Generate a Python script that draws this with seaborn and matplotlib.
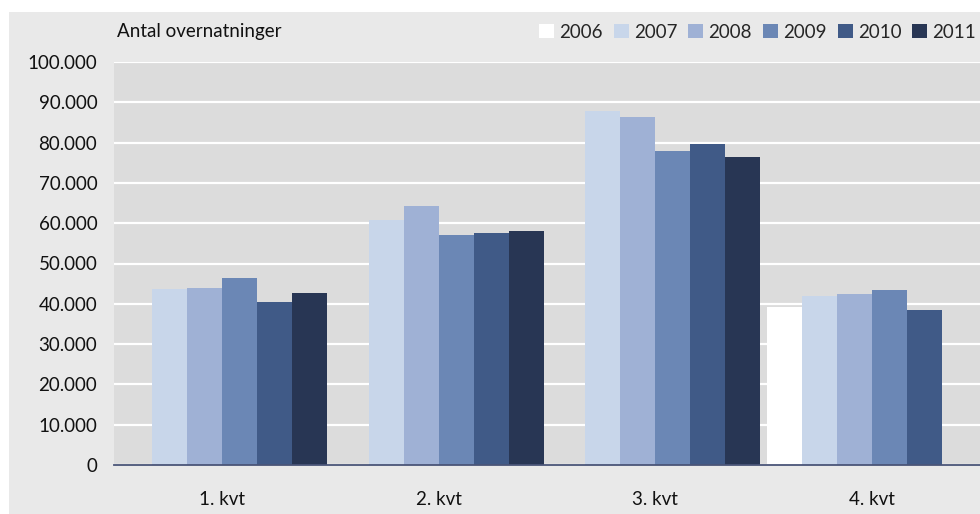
import seaborn as sns
import matplotlib.pyplot as plt
import matplotlib.ticker as mticker
import matplotlib.patches as mpatches
import numpy as np
import pandas as pd

# overnatninger per kvartal (NaN = no bar)
quarters = ["1. kvt", "2. kvt", "3. kvt", "4. kvt"]
years = ["2006", "2007", "2008", "2009", "2010", "2011"]
y2006 = [np.nan, np.nan, np.nan, 39200]
y2007 = [43700, 60700, 87900, 41900]
y2008 = [44000, 64200, 86300, 42400]
y2009 = [46400, 57000, 77900, 43400]
y2010 = [40400, 57500, 79600, 38500]
y2011 = [42700, 58000, 76400, np.nan]
colors = ["#ffffff", "#c8d6ea", "#9fb1d5", "#6b87b5", "#405a87", "#283654"]

series = dict(zip(years, [y2006, y2007, y2008, y2009, y2010, y2011]))
rows = []
for year, vals in series.items():
    for q, v in zip(quarters, vals):
        rows.append({"kvartal": q, "aar": year, "antal": v})
df = pd.DataFrame(rows)

sns.set_style("white")
plt.rcParams["font.family"] = ["Lato", "DejaVu Sans"]
fs = 13.5

fig = plt.figure(figsize=(9.8, 5.14), dpi=100)
fig.patch.set_facecolor("white")
# grey panel behind everything
fig.patches.append(mpatches.Rectangle((9 / 980, 0), 1, 1 - 12 / 514,
                                      transform=fig.transFigure,
                                      facecolor="#e9e9e9", edgecolor="none",
                                      zorder=-10))

ax = fig.add_axes([114 / 980, 1 - 465 / 514, 866 / 980, 403 / 514])
ax.set_zorder(1)
ax.set_facecolor("#dcdcdc")

sns.barplot(data=df, x="kvartal", y="antal", hue="aar",
            order=quarters, hue_order=years, palette=colors,
            saturation=1, width=0.972, linewidth=0, ax=ax, zorder=3)

ax.set_ylim(0, 100000)
ax.set_xlim(-0.5, 3.5)
ax.yaxis.set_major_locator(mticker.MultipleLocator(10000))
ax.yaxis.set_major_formatter(
    mticker.FuncFormatter(lambda v, p: f"{int(v):,}".replace(",", ".")))
ax.grid(axis="y", color="white", linewidth=1.6, zorder=1)
ax.set_axisbelow(True)
for s in ["left", "right", "top"]:
    ax.spines[s].set_visible(False)
ax.spines["bottom"].set_color("#4a5578")
ax.spines["bottom"].set_linewidth(1.3)
ax.spines["bottom"].set_zorder(5)
ax.tick_params(axis="both", length=0, labelsize=fs, colors="#111111")
ax.tick_params(axis="x", pad=19)
ax.tick_params(axis="y", pad=12)
ax.set_xlabel("")
ax.set_ylabel("")

handles, labels = ax.get_legend_handles_labels()
ax.get_legend().remove()
fig.legend(handles, labels, loc="center left",
           bbox_to_anchor=(539 / 980, 1 - 32 / 514),
           bbox_transform=fig.transFigure, ncol=6, frameon=False,
           fontsize=fs, borderpad=0, borderaxespad=0,
           handlelength=0.8, handleheight=0.8, handletextpad=0.28,
           columnspacing=0.58)

fig.text(117 / 980, 1 - 32 / 514, "Antal overnatninger", fontsize=fs,
         va="center", ha="left", color="#111111")

fig.savefig("out.png", dpi=100, facecolor=fig.get_facecolor())
